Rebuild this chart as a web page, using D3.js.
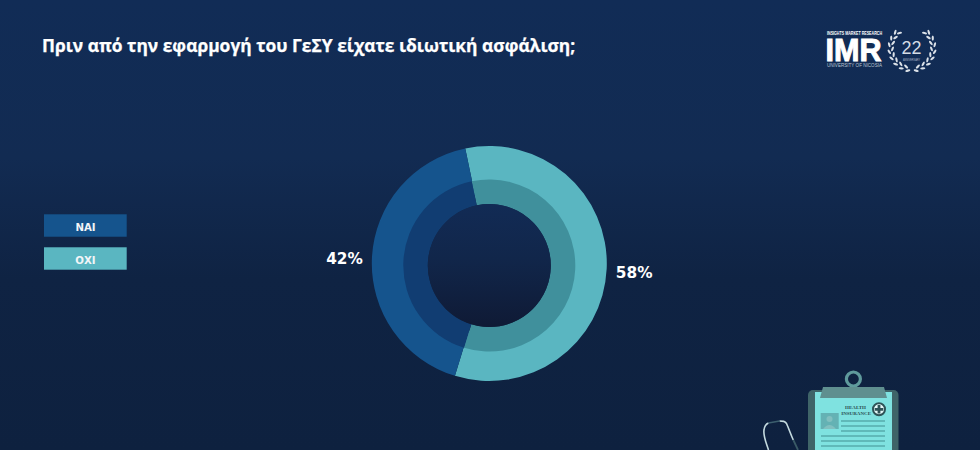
<!DOCTYPE html>
<html><head><meta charset="utf-8">
<script src="https://cdn.jsdelivr.net/npm/d3@7/dist/d3.min.js"></script>
<style>html,body{margin:0;padding:0;background:#10254a;overflow:hidden}svg{display:block}</style>
</head><body><svg id="c" width="980" height="450"></svg>
<script>
const titleText = "Πριν από την εφαρμογή του ΓεΣΥ είχατε ιδιωτική ασφάλιση;";
const categories = ["ΟΧΙ", "ΝΑΙ"];
const values = [58, 42];
const legendOrder = ["ΝΑΙ", "ΟΧΙ"];
const outerColors = ["#5ab6c1", "#15548d"];
const innerColors = ["#40909c", "#113d72"];

const svg = d3.select("#c");
const defs = svg.append("defs");
function grad(id, stops){
  const g = defs.append("linearGradient").attr("id", id).attr("x1",0).attr("y1",0).attr("x2",0).attr("y2",1);
  stops.forEach(s => g.append("stop").attr("offset", s[0]).attr("stop-color", s[1]));
}
grad("bg", [[0,"#112c56"],[0.35,"#122b52"],[0.62,"#0f2343"],[1,"#0e213f"]]);
grad("hole", [[0,"#122b55"],[0.45,"#11264a"],[1,"#0f1a35"]]);
svg.append("rect").attr("width",980).attr("height",450).attr("fill","url(#bg)");

// Title
svg.append("text").attr("x",42).attr("y",51.5).attr("fill","#fff").attr("stroke","#fff").attr("stroke-width",0.25)
  .attr("font-family","'Open Sans',sans-serif").attr("font-weight",700).attr("font-size",17.4)
  .text(titleText);

// Legend
const color = d3.scaleOrdinal(categories, outerColors);
const ly = d3.scaleBand(legendOrder, [214.3, 269.7]).paddingInner(0.32);
const lg = svg.append("g").selectAll("g").data(legendOrder).join("g");
lg.append("rect").attr("x",44).attr("width",82.7).attr("y",d=>ly(d)).attr("height",ly.bandwidth()).attr("fill",d=>color(d));
lg.append("text").attr("x",85.5).attr("y",d=>ly(d)+ly.bandwidth()/2+5.8).attr("text-anchor","middle")
  .attr("fill","#f2f5f8").attr("font-family","'DejaVu Sans',sans-serif").attr("font-weight",700).attr("font-size",10.2)
  .text(d=>d);

// Donut
const cx = 489.3, cy = 263.5, innerCy = 265.5;
const start = -11.8*Math.PI/180;
const pie = d3.pie().sort(null).startAngle(start).endAngle(start+2*Math.PI)(values);
const g = svg.append("g").attr("transform",`translate(${cx},${cy})`);
const g2 = svg.append("g").attr("transform",`translate(${cx},${innerCy})`);
const outer = d3.arc().innerRadius(70).outerRadius(117.5);
const inner = d3.arc().innerRadius(61.5).outerRadius(86);
g.selectAll("path").data(pie).join("path").attr("d",outer).attr("fill",(d,i)=>outerColors[i]);
g2.selectAll("path").data(pie).join("path").attr("d",inner).attr("fill",(d,i)=>innerColors[i]);
g2.append("circle").attr("r",61.5).attr("fill","url(#hole)");
const label = d3.arc().innerRadius(145).outerRadius(145);
g2.selectAll("text").data(pie).join("text")
  .attr("transform",d=>`translate(${label.centroid(d)})`)
  .attr("text-anchor","middle").attr("dy","0.36em")
  .attr("fill","#fff").attr("font-family","'DejaVu Sans',sans-serif").attr("font-weight",700).attr("font-size",15.3)
  .text((d,i)=>values[i]+"%");

// Logo
const logo = svg.append("g");
logo.append("text").attr("x",827).attr("y",35).attr("fill","#fff").attr("font-family","'Liberation Sans',sans-serif")
  .attr("font-weight",700).attr("font-size",5).attr("textLength",55).attr("lengthAdjust","spacingAndGlyphs").text("INSIGHTS MARKET RESEARCH");
logo.append("text").attr("x",825.5).attr("y",61).attr("fill","#fff").attr("stroke","#fff").attr("stroke-width",1).attr("font-family","'Liberation Sans',sans-serif")
  .attr("font-weight",700).attr("font-size",32).attr("textLength",56).attr("lengthAdjust","spacingAndGlyphs").text("IMR");
logo.append("text").attr("x",827).attr("y",67).attr("fill","#b9c4d2").attr("font-family","'Liberation Sans',sans-serif")
  .attr("font-size",5).attr("textLength",55).attr("lengthAdjust","spacingAndGlyphs").text("UNIVERSITY OF NICOSIA");
logo.append("text").attr("x",911.5).attr("y",53.5).attr("text-anchor","middle").attr("fill","#d5dce5").attr("font-family","'Liberation Sans',sans-serif")
  .attr("font-size",18).attr("textLength",20).attr("lengthAdjust","spacingAndGlyphs").text("22");
logo.append("text").attr("x",911.5).attr("y",60.5).attr("text-anchor","middle").attr("fill","#aab6c6").attr("font-family","'Liberation Sans',sans-serif")
  .attr("font-size",3).attr("textLength",17).attr("lengthAdjust","spacingAndGlyphs").text("ANNIVERSARY");
// laurel leaves
[-1,1].forEach(side=>{
  for(let k=0;k<8;k++){
    const deg = -50 + k*17.5;
    [19.5,23].forEach((r,j)=>{
      const a = (deg + j*7)*Math.PI/180;
      const x = 912 + side*(r*Math.cos(a)), y = 48 + r*Math.sin(a);
      const tilt = (deg + j*7) + (j? 25:-25);
      logo.append("ellipse").attr("cx",x).attr("cy",y).attr("rx",1.1).attr("ry",2.6)
        .attr("fill","#dbe1e8").attr("transform",`rotate(${side*tilt} ${x} ${y})`);
    });
  }
});

// Clipboard
const ic = svg.append("g");
ic.append("circle").attr("cx",853.4).attr("cy",379).attr("r",7).attr("fill","none").attr("stroke","#5f9a9c").attr("stroke-width",3.2);
ic.append("rect").attr("x",808).attr("y",390).attr("width",90.5).attr("height",70).attr("rx",5).attr("fill","#3f6468");
ic.append("rect").attr("x",815).attr("y",392).attr("width",77).attr("height",70).attr("fill","#7fe2e0");
ic.append("path").attr("d","M823 387 H884 L887 398 H820 Z").attr("fill","#5f8f8f");
ic.append("text").attr("x",866).attr("y",409).attr("text-anchor","end").attr("font-family","'Liberation Serif',serif").attr("font-weight",700).attr("font-size",5).attr("fill","#2a4f52").text("HEALTH");
ic.append("text").attr("x",871).attr("y",415).attr("text-anchor","end").attr("font-family","'Liberation Serif',serif").attr("font-weight",700).attr("font-size",5).attr("fill","#2a4f52").text("INSURANCE");
ic.append("circle").attr("cx",879).attr("cy",409.3).attr("r",6).attr("fill","#e8fbfb").attr("stroke","#2e5357").attr("stroke-width",2);
ic.append("path").attr("d","M877.6 405 h2.8 v2.9 h2.9 v2.8 h-2.9 v2.9 h-2.8 v-2.9 h-2.9 v-2.8 h2.9z").attr("fill","#2e5357");
ic.append("rect").attr("x",820.7).attr("y",413).attr("width",18).attr("height",16).attr("fill","#64b2b4");
ic.append("circle").attr("cx",829.5).attr("cy",419).attr("r",3).attr("fill","#82c0c0");
ic.append("path").attr("d","M823 429 q6.5 -8 13 0z").attr("fill","#82c0c0");
[421,426,431].forEach(y=>ic.append("rect").attr("x",841).attr("y",y-0.6).attr("width",44).attr("height",1.2).attr("fill","#4d9da0"));
[436,441,446].forEach(y=>ic.append("rect").attr("x",821).attr("y",y-0.6).attr("width",64).attr("height",1.2).attr("fill","#4d9da0"));
// Stethoscope
ic.append("path").attr("d","M768.5 450 C766 442 763 436 764 430 C764.5 426 766 424 768.5 423").attr("fill","none").attr("stroke","#c4dadf").attr("stroke-width",1.6);
ic.append("path").attr("d","M779.5 421 C783 421 785 421 786.5 423.5 C789 429 791 435 793.3 440").attr("fill","none").attr("stroke","#c4dadf").attr("stroke-width",1.6);
ic.append("path").attr("d","M768.5 423 L779.5 421").attr("fill","none").attr("stroke","#3c5f6e").attr("stroke-width",1.4);
ic.append("path").attr("d","M793.3 440 L798 450").attr("fill","none").attr("stroke","#3a5a66").attr("stroke-width",1.8);
</script></body></html>
